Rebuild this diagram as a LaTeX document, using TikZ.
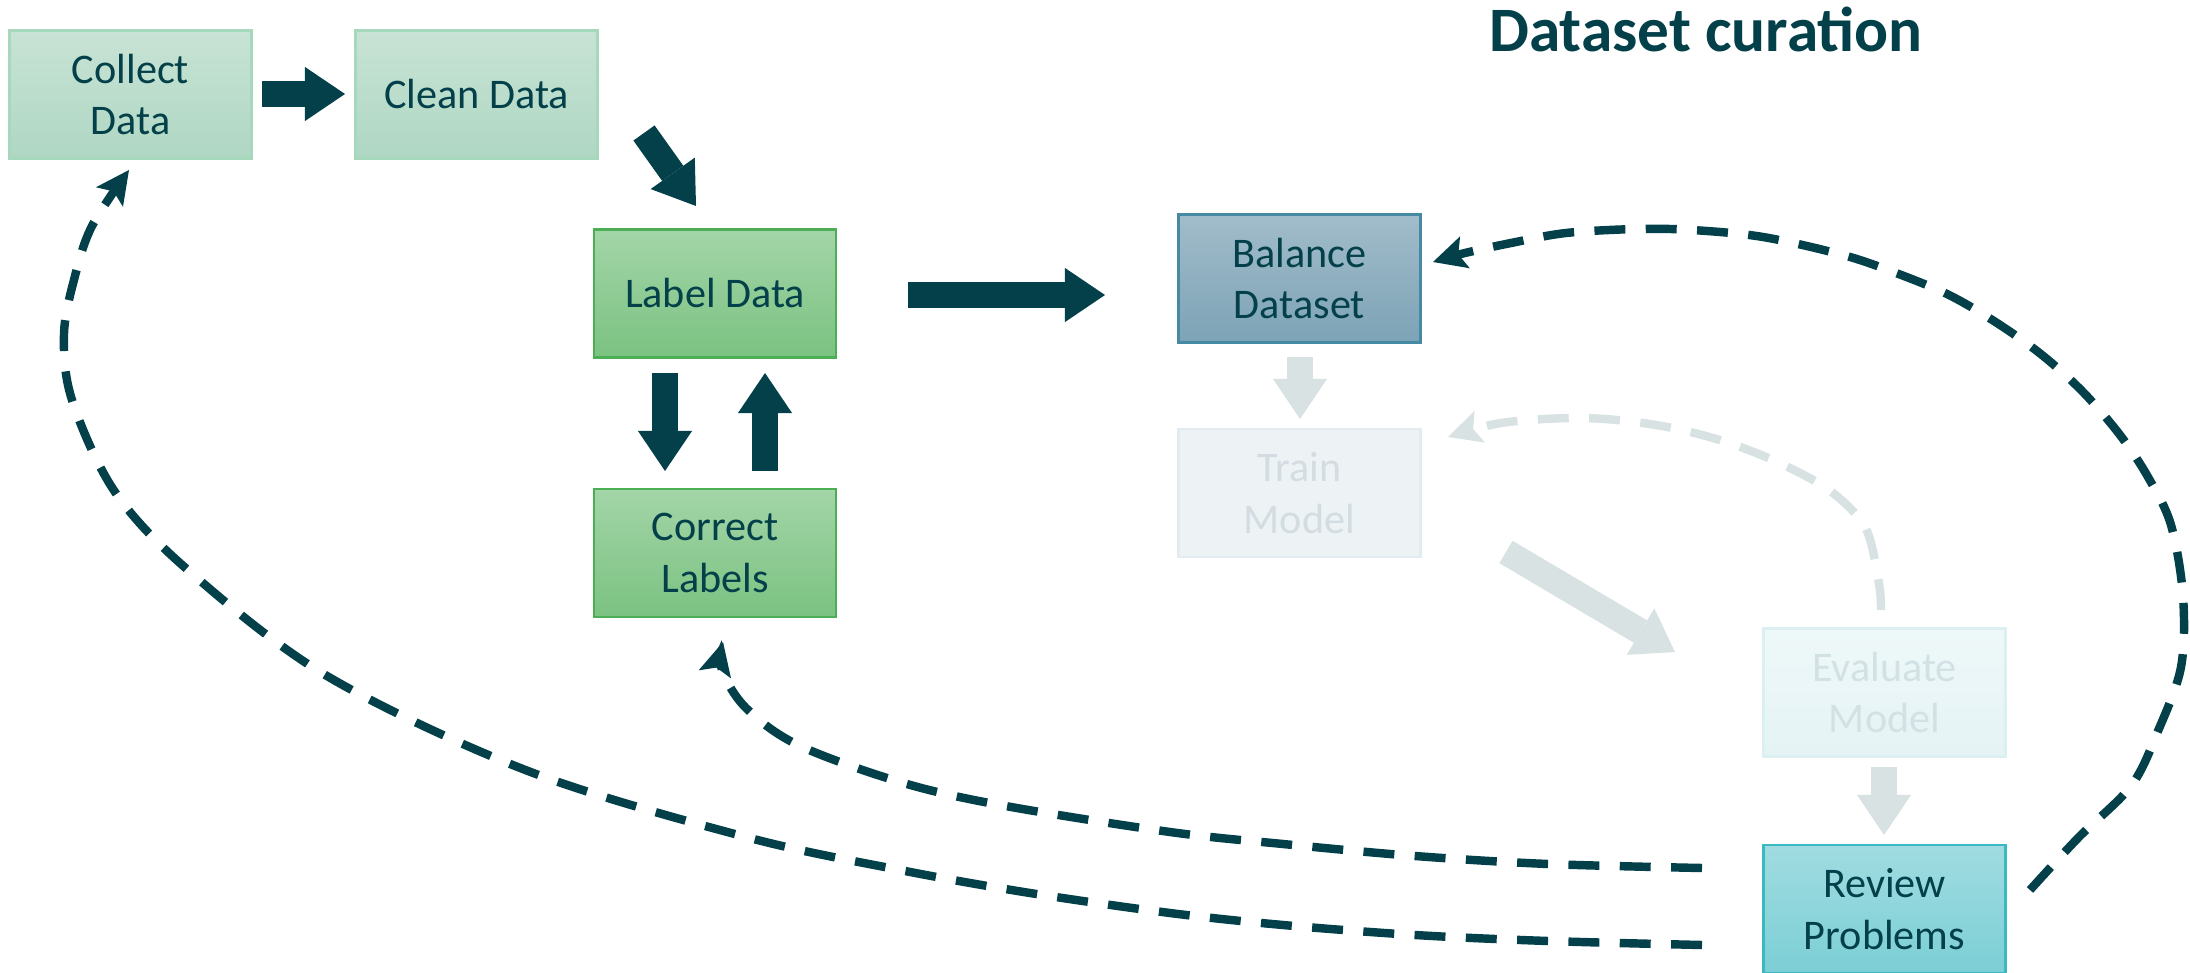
\documentclass[tikz,border=0pt]{standalone}
\usepackage{fontspec}
\setmainfont{Carlito}
\usetikzlibrary{arrows.meta}
\definecolor{ink}{HTML}{03404A}
\definecolor{lgTop}{HTML}{C8E3D5}
\definecolor{lgBot}{HTML}{AFD7C3}
\definecolor{lgLine}{HTML}{A6D8BB}
\definecolor{gTop}{HTML}{A3D5A8}
\definecolor{gBot}{HTML}{7BC281}
\definecolor{gLine}{HTML}{4CAF55}
\definecolor{bTop}{HTML}{A2BCCA}
\definecolor{bBot}{HTML}{7CA3B6}
\definecolor{bLine}{HTML}{4589A3}
\definecolor{trFill}{HTML}{EDF2F5}
\definecolor{trLine}{HTML}{E2ECF0}
\definecolor{trText}{HTML}{D3DDE1}
\definecolor{evTop}{HTML}{EEF8F9}
\definecolor{evBot}{HTML}{E5F3F5}
\definecolor{evLine}{HTML}{DCEFF1}
\definecolor{evText}{HTML}{D2E2E4}
\definecolor{rvTop}{HTML}{A0DCE1}
\definecolor{rvBot}{HTML}{7BCFD5}
\definecolor{rvLine}{HTML}{3BB9C0}
\definecolor{faint}{HTML}{D9E2E3}
\tikzset{
  box/.style={rectangle, minimum width=2.42cm, minimum height=1.28cm, inner sep=0pt,
    align=center, font=\fontsize{12}{14.6}\selectfont, text=ink, line width=0.8pt},
  lightgreen/.style={top color=lgTop, bottom color=lgBot, draw=lgLine},
  green/.style={top color=gTop, bottom color=gBot, draw=gLine},
  bluebox/.style={top color=bTop, bottom color=bBot, draw=bLine},
  trainbox/.style={fill=trFill, draw=trLine, text=trText},
  evalbox/.style={top color=evTop, bottom color=evBot, draw=evLine, text=evText},
  reviewbox/.style={top color=rvTop, bottom color=rvBot, draw=rvLine},
  blk/.style={line width=7.4pt, draw=ink, -{Triangle[length=11.4pt,width=15.4pt,line width=0pt]}},
  blkfaint/.style={blk, draw=faint},
  loop/.style={draw=ink, line width=2.4pt, dash pattern=on 8.8pt off 5.8pt,
    -{Stealth[length=9.5pt,width=9.5pt,inset=2pt,line width=0pt]}},
  loopfaint/.style={loop, draw=faint}
}
\begin{document}
\begin{tikzpicture}[x=0.01cm,y=-0.01cm]
\useasboundingbox (0,0) rectangle (2190,973);

% title
\node[font=\fontsize{18}{22}\selectfont\bfseries, text=ink, anchor=base, inner sep=0pt] (title) at (1706,52) {Dataset curation};

% boxes
\node[box, lightgreen] (collect) at (130.5,94.5) {Collect\\Data};
\node[box, lightgreen] (clean) at (476.5,94.5) {Clean Data};
\node[box, green] (label) at (715,293.5) {Label Data};
\node[box, green] (correct) at (715,553) {Correct\\Labels};
\node[box, bluebox] (balance) at (1299.5,278.5) {Balance\\Dataset};
\node[box, trainbox] (train) at (1299.5,493) {Train\\Model};
\node[box, evalbox] (evaluate) at (1884.5,692.5) {Evaluate\\Model};
\node[box, reviewbox] (review) at (1884.5,909) {Review\\Problems};

% block arrow ends
\coordinate (a1s) at (262,94);   \coordinate (a1e) at (345,94);
\coordinate (a2s) at (644,133);  \coordinate (a2e) at (696,206);
\coordinate (a3s) at (908,295);  \coordinate (a3e) at (1105,295);
\coordinate (a4s) at (665,373);  \coordinate (a4e) at (665,471);
\coordinate (a5s) at (765,471);  \coordinate (a5e) at (765,373);
\coordinate (a6s) at (1300,357); \coordinate (a6e) at (1300,419);
\coordinate (a7s) at (1506,552); \coordinate (a7e) at (1675,652);
\coordinate (a8s) at (1884,767); \coordinate (a8e) at (1884,835);

\draw[blk] (a1s) -- (a1e);
\draw[blk] (a2s) -- (a2e);
\draw[blk] (a3s) -- (a3e);
\draw[blk] (a4s) -- (a4e);
\draw[blk] (a5s) -- (a5e);
\draw[blkfaint] (a6s) -- (a6e);
\draw[blkfaint] (a7s) -- (a7e);
\draw[blkfaint] (a8s) -- (a8e);

% dashed loop ends
\coordinate (rvL1) at (1702,868);
\coordinate (rvL2) at (1702,945);
\coordinate (rvR) at (2030,890);
\coordinate (evT) at (1881,610);
\coordinate (coB) at (129,170);
\coordinate (clB) at (723,642);
\coordinate (baR) at (1433,262);
\coordinate (trR) at (1448,437);

\draw[loopfaint] plot[smooth, tension=0.55] coordinates {(evT) (1879,584) (1866,529) (1833,493) (1788,467) (1735,445) (1682,430) (1627,421) (1571,418) (1501,423) (trR)};

\draw[loop] plot[smooth, tension=0.55] coordinates {(rvL2) (1548,941) (1415,935) (1283,925) (1170,913) (1030,893) (900,870) (746,837) (528,771) (327,676) (189,571) (115,492) (72,400) (64,334) (75,276) (92,226) (coB)};

\draw[loop] plot[smooth, tension=0.55] coordinates {(rvL1) (1548,864) (1415,856) (1283,844) (1170,832) (1000,805) (900,782) (798,745) (746,708) (722,670) (clB)};

\draw[loop] plot[smooth, tension=0.55] coordinates {(rvR) (2078,838) (2131,786) (2158,731) (2181,667) (2183,596) (2171,525) (2148,477) (2120,435) (2083,392) (2042,355) (1997,323) (1949,295) (1896,273) (1843,255) (1763,237) (1692,230) (1637,229) (1566,233) (1511,243) (1465,253) (baR)};
\end{tikzpicture}
\end{document}
